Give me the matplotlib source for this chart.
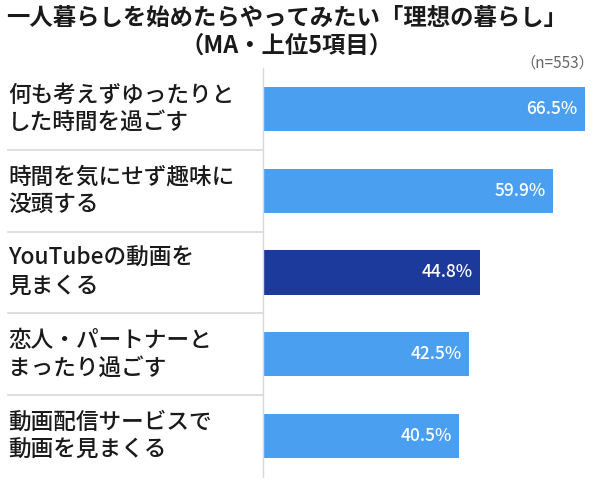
import matplotlib
matplotlib.use('Agg')
import matplotlib.pyplot as plt
from matplotlib.lines import Line2D

plt.rcParams['font.family'] = ['Noto Sans CJK JP', 'DejaVu Sans']

labels = ['何も考えずゆったりと\nした時間を過ごす',
          '時間を気にせず趣味に\n没頭する',
          'YouTubeの動画を\n見まくる',
          '恋人・パートナーと\nまったり過ごす',
          '動画配信サービスで\n動画を見まくる']
values = [66.5, 59.9, 44.8, 42.5, 40.5]
colors = ['#4a9ff0', '#4a9ff0', '#1b3a9b', '#4a9ff0', '#4a9ff0']

W, H = 600, 488
fig = plt.figure(figsize=(6, 4.88), dpi=100)
ax = fig.add_axes([263 / W, 1 - 477 / H, (590 - 263) / W, (477 - 68) / H])

y = list(range(len(values)))
ax.barh(y, values, height=0.54, color=colors)
ax.set_xlim(0, (590 - 263) / 4.84)
ax.set_ylim(len(values) - 0.5, -0.5)
for i, v in enumerate(values):
    ax.text(v - 1.5, i, f'{v}%', ha='right', va='center', color='white',
            fontsize=12.5, fontweight='medium')

ax.set_xticks([])
ax.set_yticks([])
for s in ['top', 'right', 'bottom']:
    ax.spines[s].set_visible(False)
ax.spines['left'].set_color('#d8d8d8')
ax.spines['left'].set_linewidth(1)

# row labels and separators
for i, lab in enumerate(labels):
    yc = 1 - (68 + (i + 0.5) * 81.8) / H
    fig.text(8 / W, yc, lab, ha='left', va='center', fontsize=16.3,
             fontweight='medium', linespacing=1.25, color='#1a1a1a')
    if i > 0:
        yl = 1 - (68 + i * 81.8) / H
        fig.add_artist(Line2D([8 / W, 263 / W], [yl, yl], color='#d8d8d8', lw=1.2))

fig.text(287 / W, 1 - 18 / H, '一人暮らしを始めたらやってみたい「理想の暮らし」',
         ha='center', va='center', fontsize=16.8, fontweight='bold', color='#1a1a1a')
fig.text(287 / W, 1 - 46 / H, '（MA・上位5項目）',
         ha='center', va='center', fontsize=16.8, fontweight='bold', color='#1a1a1a')
fig.text(594 / W, 1 - 63 / H, '（n=553）', ha='right', va='center',
         fontsize=11, color='#666666')

fig.savefig('out.png', dpi=100, facecolor='white')
